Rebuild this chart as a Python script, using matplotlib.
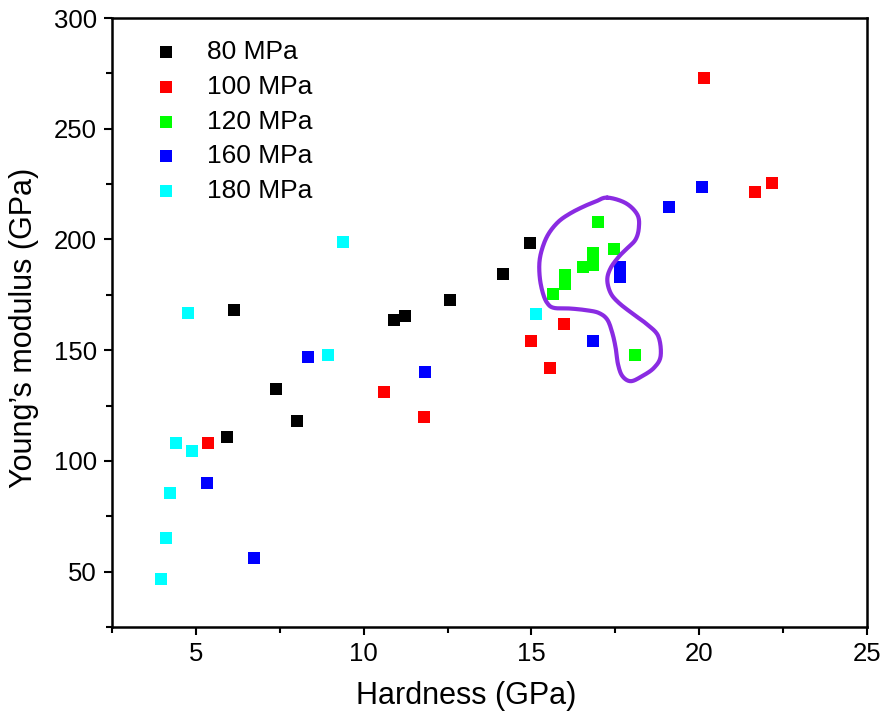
import numpy as np
import matplotlib
matplotlib.use("Agg")
import matplotlib.pyplot as plt
from matplotlib.ticker import MultipleLocator

plt.rcParams['font.family'] = ['Liberation Sans', 'DejaVu Sans']

series_labels = ["80 MPa", "100 MPa", "120 MPa", "160 MPa", "180 MPa"]
series_colors = ["#000000", "#ff0000", "#00ff00", "#0000ff", "#00ffff"]

h_80 = [5.93, 6.14, 7.39, 8.00, 10.91, 11.22, 12.57, 14.14, 14.97]
e_80 = [111, 168, 132.5, 118, 163.5, 165.6, 172.5, 184.5, 198.5]

h_100 = [5.37, 10.60, 11.79, 14.99, 15.54, 15.98, 20.13, 21.66, 22.18]
e_100 = [108, 131, 120, 154, 142, 162, 273, 221.5, 225.7]

h_120 = [16.97, 17.45, 16.83, 16.83, 16.53, 16.01, 16.01, 15.64, 18.10]
e_120 = [207.7, 195.6, 194.0, 188.4, 187.7, 183.9, 179.7, 175.2, 148]

h_160 = [5.33, 6.73, 8.33, 11.84, 16.82, 17.64, 17.64, 19.09, 20.07]
e_160 = [90, 56, 147, 140, 154, 187.7, 182.9, 214.6, 223.6]

h_180 = [3.95, 4.10, 4.24, 4.42, 4.89, 4.77, 8.94, 9.38, 15.13]
e_180 = [46.5, 65, 85.5, 108, 104.5, 167, 148, 199, 166.5]

# hand-drawn outline (annotation) in data coordinates
loop_x = [17.26, 17.81, 18.16, 18.20, 18.10, 17.86, 17.61, 17.36, 17.26, 17.36,
          17.61, 18.05, 18.45, 18.78, 18.85, 18.65, 18.30, 17.96, 17.71, 17.58,
          17.51, 17.41, 17.26, 17.01, 16.66, 16.16, 15.67, 15.47, 15.34, 15.25,
          15.24, 15.34, 15.52, 15.81, 16.16, 16.56, 16.91]
loop_y = [218.9, 216.4, 211.1, 205.1, 199.9, 196.1, 192.3, 187.1, 181.8, 175.8,
          171.3, 166.1, 161.6, 156.3, 147.3, 142.0, 138.3, 136.0, 138.3, 143.6,
          151.0, 157.8, 163.8, 166.8, 168.0, 168.8, 169.1, 171.3, 175.8, 182.6,
          190.1, 196.8, 202.8, 208.1, 211.8, 214.9, 217.1]

xs = [h_80, h_100, h_120, h_160, h_180]
ys = [e_80, e_100, e_120, e_160, e_180]

fig = plt.figure(figsize=(8.85, 7.15), dpi=100)
ax = fig.add_axes([112/885, 1-627/715, (867-112)/885, (627-18)/715])

for x, y, c, lab in zip(xs, ys, series_colors, series_labels):
    ax.scatter(x, y, marker='s', s=82, color=c, linewidths=0, label=lab, zorder=3)


def catmull_closed(px, py, n=12):
    px = np.asarray(px); py = np.asarray(py)
    N = len(px)
    outx, outy = [], []
    for i in range(N):
        p0 = np.array([px[(i-1) % N], py[(i-1) % N]])
        p1 = np.array([px[i], py[i]])
        p2 = np.array([px[(i+1) % N], py[(i+1) % N]])
        p3 = np.array([px[(i+2) % N], py[(i+2) % N]])
        for t in np.linspace(0, 1, n, endpoint=False):
            t2, t3 = t*t, t*t*t
            pt = 0.5*((2*p1) + (-p0+p2)*t + (2*p0-5*p1+4*p2-p3)*t2 + (-p0+3*p1-3*p2+p3)*t3)
            outx.append(pt[0]); outy.append(pt[1])
    outx.append(outx[0]); outy.append(outy[0])
    return outx, outy

lx, ly = catmull_closed(loop_x, loop_y)
ax.plot(lx, ly, color='#8a2be2', lw=3.0, solid_joinstyle='round', solid_capstyle='round', zorder=4)

ax.set_xlim(2.5, 25)
ax.set_ylim(25, 300)
ax.xaxis.set_major_locator(MultipleLocator(5))
ax.xaxis.set_minor_locator(MultipleLocator(2.5))
ax.yaxis.set_major_locator(MultipleLocator(50))
ax.yaxis.set_minor_locator(MultipleLocator(25))
ax.tick_params(which='both', direction='out', top=False, right=False, width=1.5, labelsize=18.5)
ax.tick_params(which='major', length=6, pad=5)
ax.tick_params(which='minor', length=4)
for sp in ax.spines.values():
    sp.set_linewidth(1.8)

ax.set_xlabel("Hardness (GPa)", fontsize=22)
ax.set_ylabel("Young\u2019s modulus (GPa)", fontsize=22)
ax.xaxis.set_label_coords(0.469, -0.088)
ax.yaxis.set_label_coords(-0.097, 0.491)

leg = ax.legend(loc='upper left', frameon=False, fontsize=19, handlelength=1.0,
                handletextpad=1.05, labelspacing=0.405, borderaxespad=0.0,
                bbox_to_anchor=(0.040, 0.981), scatterpoints=1)

fig.savefig("out.png", dpi=100)
